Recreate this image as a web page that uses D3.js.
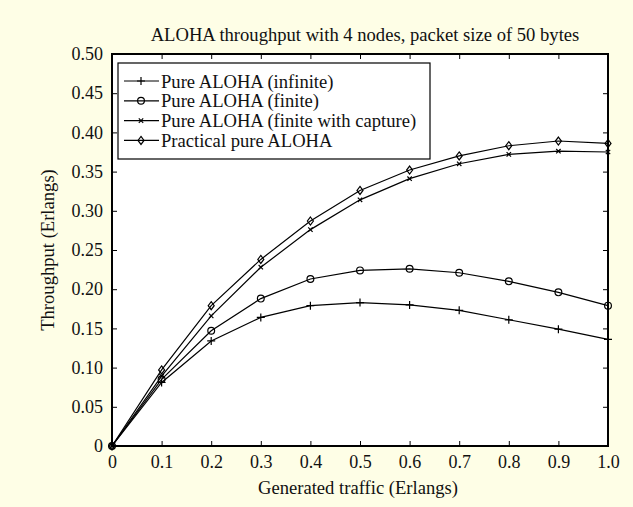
<!DOCTYPE html>
<html>
<head>
  <meta charset="UTF-8">
  <style>
    body { margin: 0; background: #fefee6; }
    svg { display: block; }
    text { font-family: "Liberation Serif", "DejaVu Serif", serif; fill: #111; }
  </style>
</head>
<body>
  <svg width="633" height="507"></svg>
  <script src="https://d3js.org/d3.v7.min.js"></script>
  <script>
    // offered load (Erlangs)
    const traffic = [0, 0.1, 0.2, 0.3, 0.4, 0.5, 0.6, 0.7, 0.8, 0.9, 1.0];

    // throughput series
    const pureInfinite = [0, 0.081, 0.134, 0.164, 0.179, 0.183, 0.180, 0.173, 0.161, 0.149, 0.136];
    const pureFinite   = [0, 0.085, 0.147, 0.188, 0.213, 0.224, 0.226, 0.221, 0.210, 0.196, 0.179];
    const pureCapture  = [0, 0.089, 0.166, 0.228, 0.276, 0.314, 0.341, 0.360, 0.372, 0.376, 0.375];
    const practical    = [0, 0.097, 0.179, 0.238, 0.287, 0.326, 0.352, 0.370, 0.383, 0.389, 0.386];

    const seriesNames = [
      'Pure ALOHA (infinite)',
      'Pure ALOHA (finite)',
      'Pure ALOHA (finite with capture)',
      'Practical pure ALOHA'
    ];
    const markers = ['plus', 'circle', 'cross', 'diamond'];
    const allSeries = [pureInfinite, pureFinite, pureCapture, practical];

    const xTicks = [0, 0.1, 0.2, 0.3, 0.4, 0.5, 0.6, 0.7, 0.8, 0.9, 1.0];
    const xTickLabels = ['0', '0.1', '0.2', '0.3', '0.4', '0.5', '0.6', '0.7', '0.8', '0.9', '1.0'];
    const yTicks = [0, 0.05, 0.10, 0.15, 0.20, 0.25, 0.30, 0.35, 0.40, 0.45, 0.50];
    const yTickLabels = ['0', '0.05', '0.10', '0.15', '0.20', '0.25', '0.30', '0.35', '0.40', '0.45', '0.50'];

    const svg = d3.select('svg');
    const plot = { left: 112, right: 608, top: 54, bottom: 446 };

    const x = d3.scaleLinear().domain([0, 1]).range([plot.left, plot.right]);
    const y = d3.scaleLinear().domain([0, 0.5]).range([plot.bottom, plot.top]);

    // white plotting area
    svg.append('rect')
      .attr('x', plot.left).attr('y', plot.top)
      .attr('width', plot.right - plot.left).attr('height', plot.bottom - plot.top)
      .attr('fill', '#fff');

    // axes, ticks pointing inward on all four sides
    const tickLen = 5;
    const fontSize = 18;
    const textSize = 18.6;
    function styleAxis(g) {
      g.select('.domain').remove();
      g.selectAll('.tick line').attr('stroke', '#000').attr('stroke-width', 1);
      g.selectAll('.tick text').style('font-size', fontSize + 'px').attr('fill', '#111');
    }

    svg.append('g')
      .attr('transform', `translate(0,${plot.bottom})`)
      .call(d3.axisBottom(x).tickValues(xTicks).tickSize(-tickLen).tickPadding(9)
        .tickFormat((d, i) => xTickLabels[i]))
      .call(styleAxis);
    svg.append('g')
      .attr('transform', `translate(0,${plot.top})`)
      .call(d3.axisTop(x).tickValues(xTicks).tickSize(-tickLen).tickFormat(''))
      .call(styleAxis);
    svg.append('g')
      .attr('transform', `translate(${plot.left},0)`)
      .call(d3.axisLeft(y).tickValues(yTicks).tickSize(-tickLen).tickPadding(9)
        .tickFormat((d, i) => yTickLabels[i]))
      .call(styleAxis);
    svg.append('g')
      .attr('transform', `translate(${plot.right},0)`)
      .call(d3.axisRight(y).tickValues(yTicks).tickSize(-tickLen).tickFormat(''))
      .call(styleAxis);

    // frame
    svg.append('rect')
      .attr('x', plot.left).attr('y', plot.top)
      .attr('width', plot.right - plot.left).attr('height', plot.bottom - plot.top)
      .attr('fill', 'none').attr('stroke', '#000').attr('stroke-width', 2);

    // marker shapes
    function drawMarker(g, type, cx, cy) {
      if (type === 'plus') {
        g.append('path').attr('d', `M${cx - 4},${cy}H${cx + 4}M${cx},${cy - 4}V${cy + 4}`)
          .attr('stroke', '#000').attr('stroke-width', 1.2).attr('fill', 'none');
      } else if (type === 'circle') {
        g.append('circle').attr('cx', cx).attr('cy', cy).attr('r', 3.4)
          .attr('stroke', '#000').attr('stroke-width', 1.2).attr('fill', 'none');
      } else if (type === 'cross') {
        g.append('path').attr('d', `M${cx - 2.2},${cy - 2.2}L${cx + 2.2},${cy + 2.2}M${cx - 2.2},${cy + 2.2}L${cx + 2.2},${cy - 2.2}`)
          .attr('stroke', '#000').attr('stroke-width', 1.2).attr('fill', 'none');
      } else {
        g.append('path').attr('d', `M${cx},${cy - 4}L${cx + 3},${cy}L${cx},${cy + 4}L${cx - 3},${cy}Z`)
          .attr('stroke', '#000').attr('stroke-width', 1.2).attr('fill', 'none');
      }
    }

    const line = d3.line().x((d, i) => x(traffic[i])).y(d => y(d));

    allSeries.forEach((vals, k) => {
      const g = svg.append('g');
      g.append('path').datum(vals)
        .attr('d', line)
        .attr('fill', 'none').attr('stroke', '#000').attr('stroke-width', 1.2);
      vals.forEach((v, i) => drawMarker(g, markers[k], x(traffic[i]), y(v)));
    });

    // legend
    const legend = { x: 118, y: 63, w: 312, h: 96, row: 19.8 };
    svg.append('rect')
      .attr('x', legend.x).attr('y', legend.y).attr('width', legend.w).attr('height', legend.h)
      .attr('fill', '#fff').attr('stroke', '#000').attr('stroke-width', 1.2);
    seriesNames.forEach((name, k) => {
      const cy = legend.y + 18 + k * legend.row;
      const g = svg.append('g');
      g.append('line')
        .attr('x1', legend.x + 6).attr('x2', legend.x + 41)
        .attr('y1', cy).attr('y2', cy)
        .attr('stroke', '#000').attr('stroke-width', 1.2);
      drawMarker(g, markers[k], legend.x + 23, cy);
      g.append('text')
        .attr('x', legend.x + 43).attr('y', cy).attr('dy', '0.35em')
        .style('font-size', textSize + 'px')
        .text(name);
    });

    // titles
    svg.append('text')
      .attr('x', (plot.left + plot.right) / 2 + 5).attr('y', 41)
      .attr('text-anchor', 'middle').style('font-size', textSize + 'px')
      .text('ALOHA throughput with 4 nodes, packet size of 50 bytes');
    svg.append('text')
      .attr('x', (plot.left + plot.right) / 2 - 2).attr('y', 494)
      .attr('text-anchor', 'middle').style('font-size', textSize + 'px')
      .text('Generated traffic (Erlangs)');
    svg.append('text')
      .attr('transform', 'translate(54,250) rotate(-90)')
      .attr('text-anchor', 'middle').style('font-size', textSize + 'px')
      .text('Throughput (Erlangs)');
  </script>
</body>
</html>
